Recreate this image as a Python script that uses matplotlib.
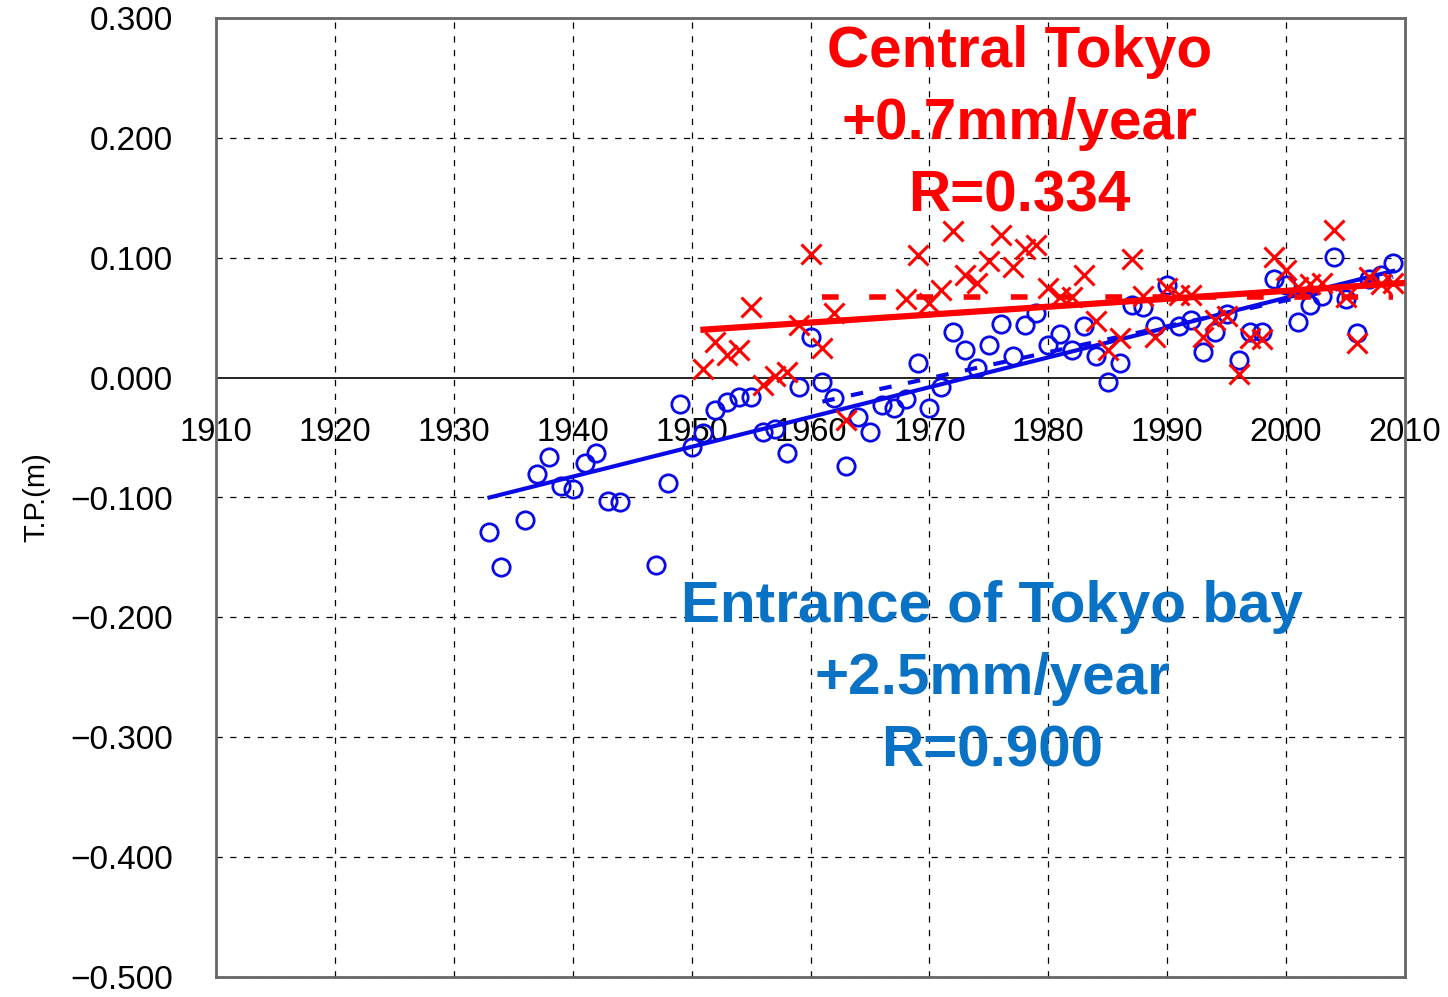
import matplotlib
matplotlib.use("Agg")
import matplotlib.pyplot as plt
import numpy as np

plt.rcParams['font.family'] = ['Liberation Sans', 'DejaVu Sans']

# ---- data ----
bay_years = [1933, 1934, 1936, 1937, 1938, 1939, 1940, 1941, 1942, 1943, 1944, 1947, 1948, 1949,
             1950, 1951, 1952, 1953, 1954, 1955, 1956, 1957, 1958, 1959,
             1960, 1961, 1962, 1963, 1964, 1965, 1966, 1967, 1968, 1969,
             1970, 1971, 1972, 1973, 1974, 1975, 1976, 1977, 1978, 1979,
             1980, 1981, 1982, 1983, 1984, 1985, 1986, 1987, 1988, 1989,
             1990, 1991, 1992, 1993, 1994, 1995, 1996, 1997, 1998, 1999,
             2000, 2001, 2002, 2003, 2004, 2005, 2006, 2007, 2008, 2009]
bay_values = [-0.129, -0.158, -0.119, -0.080, -0.066, -0.090, -0.093, -0.071, -0.063, -0.103, -0.104, -0.156, -0.088, -0.022,
              -0.058, -0.046, -0.027, -0.020, -0.016, -0.016, -0.045, -0.043, -0.063, -0.008,
              0.034, -0.004, -0.017, -0.074, -0.033, -0.045, -0.023, -0.025, -0.018, 0.012,
              -0.025, -0.008, 0.038, 0.023, 0.008, 0.027, 0.045, 0.018, 0.044, 0.054,
              0.027, 0.036, 0.023, 0.043, 0.018, -0.004, 0.012, 0.061, 0.059, 0.043,
              0.077, 0.043, 0.048, 0.021, 0.038, 0.053, 0.015, 0.038, 0.038, 0.082,
              0.077, 0.046, 0.061, 0.068, 0.101, 0.066, 0.037, 0.082, 0.086, 0.096]

tokyo_years = [1951, 1952, 1953, 1954, 1955, 1956, 1957, 1958, 1959,
               1960, 1961, 1962, 1963, 1968, 1969,
               1970, 1971, 1972, 1973, 1974, 1975, 1976, 1977, 1978, 1979,
               1980, 1981, 1982, 1983, 1984, 1985, 1986, 1987, 1988, 1989,
               1990, 1991, 1992, 1993, 1994, 1995, 1996, 1997, 1998, 1999,
               2000, 2001, 2002, 2003, 2004, 2005, 2006, 2007, 2008, 2009]
tokyo_values = [0.007, 0.030, 0.019, 0.023, 0.059, -0.006, 0.001, 0.005, 0.044,
                0.103, 0.025, 0.054, -0.035, 0.066, 0.102,
                0.062, 0.073, 0.122, 0.086, 0.079, 0.097, 0.119, 0.092, 0.107, 0.111,
                0.075, 0.067, 0.067, 0.086, 0.047, 0.023, 0.033, 0.099, 0.068, 0.034,
                0.075, 0.069, 0.069, 0.034, 0.048, 0.051, 0.003, 0.033, 0.032, 0.101,
                0.090, 0.076, 0.078, 0.079, 0.123, 0.067, 0.029, 0.084, 0.078, 0.079]

# trend lines
bay_trend_years = [1933, 2009]
bay_trend_values = [-0.100, 0.089]
bay_trend2_years = [1961, 2009]
bay_trend2_values = [-0.020, 0.084]
tokyo_trend_years = [1951, 2010]
tokyo_trend_values = [0.040, 0.079]
tokyo_mean_years = [1961, 2009]
tokyo_mean_values = [0.067, 0.067]

x_ticks = list(range(1910, 2011, 10))
y_ticks = [0.3, 0.2, 0.1, 0.0, -0.1, -0.2, -0.3, -0.4, -0.5]
y_ticklabels = ['0.300', '0.200', '0.100', '0.000', '\u22120.100', '\u22120.200',
                '\u22120.300', '\u22120.400', '\u22120.500']

RED = '#ff0000'
BLUE = '#0a0ae6'
BLUE_TXT = '#0a72c4'

fig = plt.figure(figsize=(14.48, 9.97), dpi=100)
ax = fig.add_axes([216/1448, 1 - 977/997, (1405-216)/1448, (977-18)/997])

ax.set_xlim(1910, 2010)
ax.set_ylim(-0.5, 0.3)

# grid
for xv in x_ticks[1:-1]:
    ax.axvline(xv, color='black', lw=0.9, ls=(0, (5, 6)), zorder=1)
for yv in y_ticks:
    if yv != 0.0:
        ax.axhline(yv, color='black', lw=0.9, ls=(0, (5, 6)), zorder=1)
ax.axhline(0.0, color='black', lw=1.2, zorder=1)

# data
ax.plot(bay_years, bay_values, ls='none', marker='o', ms=12.5, mfc='none',
        mec=BLUE, mew=2.0, zorder=3)
ax.plot(tokyo_years, tokyo_values, ls='none', marker='x', ms=15, mec=RED,
        mew=2.2, zorder=4)

ax.plot(bay_trend2_years, bay_trend2_values, color=BLUE, lw=3, dashes=(3, 4), zorder=3)
ax.plot(bay_trend_years, bay_trend_values, color=BLUE, lw=3, zorder=3)
ax.plot(tokyo_mean_years, tokyo_mean_values, color=RED, lw=4, dashes=(3, 5.5), zorder=4)
ax.plot(tokyo_trend_years, tokyo_trend_values, color=RED, lw=4.5, zorder=4)

# axes styling
for s in ['left', 'right', 'top', 'bottom']:
    ax.spines[s].set_color('#666666')
    ax.spines[s].set_linewidth(2)

ax.set_yticks(y_ticks)
ax.set_yticklabels(y_ticklabels, fontsize=24)
ax.tick_params(axis='y', length=0, pad=31)
ax.set_xticks([])

sec = ax.secondary_xaxis(0.625)
sec.set_xticks(x_ticks)
sec.set_xticklabels([str(v) for v in x_ticks], fontsize=23.5)
sec.tick_params(axis='x', length=0, pad=28, bottom=True, top=False,
                labelbottom=True, labeltop=False)
for s in sec.spines.values():
    s.set_visible(False)

ax.set_ylabel('T.P.(m)', fontsize=21, labelpad=14)

ax.text(1977.6, 0.2115, 'Central Tokyo\n+0.7mm/year\nR=0.334', color=RED,
        fontsize=42, fontweight='bold', ha='center', va='center',
        linespacing=1.43, zorder=5)
ax.text(1975.3, -0.2515, 'Entrance of Tokyo bay\n+2.5mm/year\nR=0.900', color=BLUE_TXT,
        fontsize=42, fontweight='bold', ha='center', va='center',
        linespacing=1.43, zorder=5)

fig.savefig('out.png', dpi=100)
